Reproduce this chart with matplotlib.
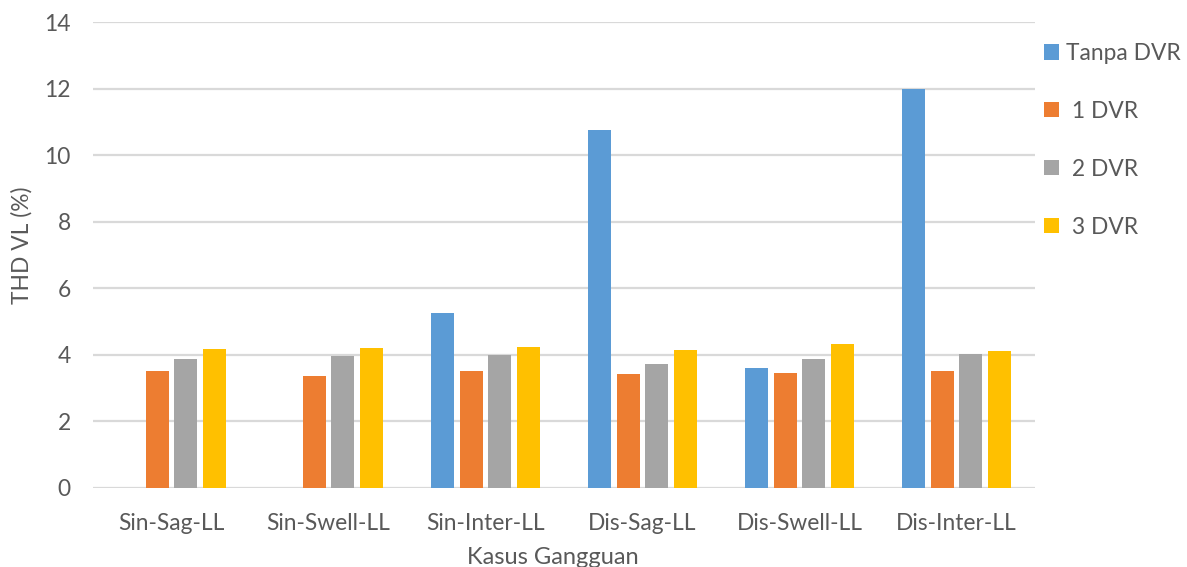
import matplotlib
matplotlib.use("Agg")
import matplotlib.pyplot as plt
import numpy as np

categories = ["Sin-Sag-LL", "Sin-Swell-LL", "Sin-Inter-LL", "Dis-Sag-LL", "Dis-Swell-LL", "Dis-Inter-LL"]
series_names = ["Tanpa DVR", " 1 DVR", " 2 DVR", " 3 DVR"]
tanpa_dvr = [0, 0, 5.24, 10.76, 3.59, 12.0]
dvr_1 = [3.50, 3.35, 3.50, 3.41, 3.44, 3.50]
dvr_2 = [3.86, 3.95, 3.98, 3.71, 3.86, 4.01]
dvr_3 = [4.16, 4.19, 4.22, 4.13, 4.31, 4.10]
colors = ["#5B9BD5", "#ED7D31", "#A5A5A5", "#FFC000"]

plt.rcParams["font.family"] = ["Lato", "DejaVu Sans"]
text_color = "#595959"
fs = 16.4

fig = plt.figure(figsize=(11.87, 5.67), dpi=100)
ax = fig.add_axes([0.0783, 0.140, 0.7937, 0.821])

x = np.arange(len(categories))
width = 0.146
step = 0.182
for i, (vals, name, c) in enumerate(zip([tanpa_dvr, dvr_1, dvr_2, dvr_3], series_names, colors)):
    ax.bar(x + (i - 1.5) * step, vals, width, color=c, label=name, zorder=3)

ax.set_xlim(-0.5, len(categories) - 0.5)
ax.set_ylim(0, 14)
ax.set_yticks(np.arange(0, 15, 2))
ax.set_xticks(x)
ax.set_xticklabels(categories)
ax.grid(axis="y", color="#D9D9D9", linewidth=1.6, zorder=0)
for s in ax.spines.values():
    s.set_visible(False)
ax.tick_params(axis="both", length=0, labelsize=fs, colors=text_color)
ax.tick_params(axis="y", pad=16)
ax.tick_params(axis="x", pad=18)

ax.set_ylabel("THD VL (%)", fontsize=fs, color=text_color, va="center")
ax.yaxis.set_label_coords(-0.0754, 0.521)
ax.set_xlabel("Kasus Gangguan", fontsize=fs + 0.6, color=text_color, va="center")
ax.xaxis.set_label_coords(0.488, -0.151)

leg = ax.legend(loc="upper left", bbox_to_anchor=(1.0, 0.975), frameon=False,
                fontsize=fs, handlelength=0.66, handleheight=0.66, handletextpad=0.3,
                labelspacing=1.62, borderaxespad=0)
for t in leg.get_texts():
    t.set_color(text_color)

fig.savefig("out.png", dpi=100)
